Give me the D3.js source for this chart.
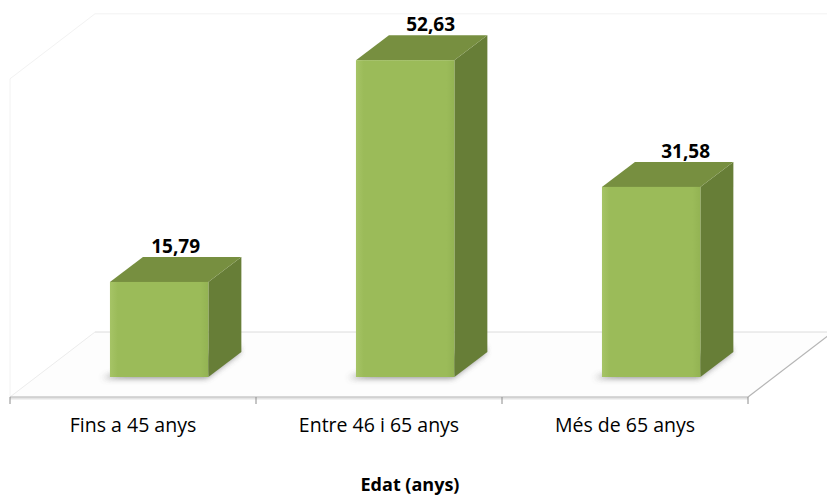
<!DOCTYPE html>
<html>
<head>
<meta charset="utf-8">
<script src="https://cdn.jsdelivr.net/npm/d3@7"></script>
<style>
  body { margin: 0; background: #fff; }
  svg { display: block; }
</style>
</head>
<body>
<div id="chart"></div>
<script>
const categories = ["Fins a 45 anys", "Entre 46 i 65 anys", "Més de 65 anys"];
const values = [15.79, 52.63, 31.58];
const valueLabels = ["15,79", "52,63", "31,58"];
const axisTitle = "Edat (anys)";

const width = 827, height = 497;
// floor geometry (perspective offset of the floor depth)
const floorFront = 397, floorBack = 332;
const floorLeft = 10, floorRight = 748;
const depthX = 85, depthY = floorFront - floorBack;
const barDx = 33, barDy = 25;
const baseY = 377;

const svg = d3.select("#chart").append("svg")
    .attr("width", width)
    .attr("height", height);

const defs = svg.append("defs");
defs.append("filter").attr("id", "shadow")
    .attr("x", "-30%").attr("y", "-100%").attr("width", "160%").attr("height", "300%")
    .append("feGaussianBlur").attr("stdDeviation", 3);

const grad = defs.append("linearGradient").attr("id", "front")
    .attr("x1", 0).attr("x2", 1).attr("y1", 0).attr("y2", 0);
grad.append("stop").attr("offset", "0%").attr("stop-color", "#a6c466");
grad.append("stop").attr("offset", "8%").attr("stop-color", "#9bbb59");
grad.append("stop").attr("offset", "92%").attr("stop-color", "#9bbb59");
grad.append("stop").attr("offset", "100%").attr("stop-color", "#93b353");

const y = d3.scaleLinear().domain([0, 60]).range([baseY, baseY - 6.02 * 60]);

const shift = (floorFront - baseY) * depthX / depthY;
const x = d3.scaleBand().domain(categories)
    .range([floorLeft + shift, floorRight + shift])
    .paddingInner(0.6).paddingOuter(0.3);

const xAxisBand = d3.scaleBand().domain(categories).range([floorLeft, floorRight]);

// walls (very faint)
const wallTop = y(60) - 2;
svg.append("path")
    .attr("d", `M${floorLeft},${floorFront} L${floorLeft},${wallTop + depthY} L${floorLeft + depthX},${wallTop} L${width},${wallTop}`)
    .attr("fill", "none").attr("stroke", "#f2f2f2").attr("stroke-width", 1);

// floor
svg.append("path")
    .attr("d", `M${floorLeft},${floorFront} L${floorRight},${floorFront} L${floorRight + depthX},${floorBack} L${floorLeft + depthX},${floorBack} Z`)
    .attr("fill", "#fdfdfd").attr("stroke", "none");
svg.append("line")
    .attr("x1", floorLeft + depthX).attr("x2", floorRight + depthX)
    .attr("y1", floorBack).attr("y2", floorBack)
    .attr("stroke", "#dcdcdc").attr("stroke-width", 1);
svg.append("line")
    .attr("x1", floorLeft).attr("x2", floorLeft + depthX)
    .attr("y1", floorFront).attr("y2", floorBack)
    .attr("stroke", "#ececec").attr("stroke-width", 1);
svg.append("line")
    .attr("x1", floorRight).attr("x2", floorRight + depthX)
    .attr("y1", floorFront).attr("y2", floorBack)
    .attr("stroke", "#b5b5b5").attr("stroke-width", 1.2);
svg.append("line")
    .attr("x1", floorLeft).attr("x2", floorRight)
    .attr("y1", floorFront + 1).attr("y2", floorFront + 1)
    .attr("stroke", "#e4e4e4").attr("stroke-width", 3);
svg.append("line")
    .attr("x1", floorLeft).attr("x2", floorRight)
    .attr("y1", floorFront).attr("y2", floorFront)
    .attr("stroke", "#bdbdbd").attr("stroke-width", 1.2);

// ticks between categories
const tickXs = categories.map(c => xAxisBand(c)).concat([floorRight]);
svg.selectAll(".tick").data(tickXs).enter().append("line")
    .attr("x1", d => d).attr("x2", d => d)
    .attr("y1", floorFront).attr("y2", floorFront + 7)
    .attr("stroke", "#8c8c8c").attr("stroke-width", 1);

// bars
const bars = svg.selectAll(".bar").data(values).enter().append("g").attr("class", "bar");
const bw = x.bandwidth();
const bx = (d, i) => x(categories[i]);

bars.append("path")
    .attr("d", (d, i) => {
        const x0 = bx(d, i) - 8, yb = baseY + 1;
        return `M${x0},${yb} L${x0 + bw + 6},${yb} L${x0 + bw + 6 + barDx},${yb - barDy} L${x0 + bw + 6 + barDx},${yb - barDy - 6} L${x0 + 20},${yb - 6} Z`;
    })
    .attr("fill", "#555").attr("opacity", 0.7).attr("filter", "url(#shadow)");

bars.append("path")
    .attr("d", (d, i) => {
        const x0 = bx(d, i) + bw, yt = y(d);
        return `M${x0},${baseY} L${x0},${yt} L${x0 + barDx},${yt - barDy} L${x0 + barDx},${baseY - barDy} Z`;
    })
    .attr("fill", "#677e37");

bars.append("path")
    .attr("d", (d, i) => {
        const x0 = bx(d, i), yt = y(d);
        return `M${x0},${yt} L${x0 + barDx},${yt - barDy} L${x0 + bw + barDx},${yt - barDy} L${x0 + bw},${yt} Z`;
    })
    .attr("fill", "#778f40");

bars.append("rect")
    .attr("x", (d, i) => bx(d, i))
    .attr("y", d => y(d))
    .attr("width", bw)
    .attr("height", d => baseY - y(d))
    .attr("fill", "url(#front)");

// value labels (slight perspective drift to the right, like the original)
bars.append("text")
    .attr("x", (d, i) => bx(d, i) + bw / 2 + barDx / 2 + i * 9)
    .attr("y", d => y(d) - barDy - 4)
    .attr("text-anchor", "middle")
    .style("font-family", "'Open Sans', sans-serif")
    .style("font-weight", "bold")
    .style("font-size", "19px")
    .attr("fill", "#000")
    .text((d, i) => valueLabels[i]);

// category labels
svg.selectAll(".cat").data(categories).enter().append("text")
    .attr("x", d => xAxisBand(d) + xAxisBand.bandwidth() / 2)
    .attr("y", 432)
    .attr("text-anchor", "middle")
    .style("font-family", "'Open Sans', sans-serif")
    .style("font-size", "19.5px")
    .attr("fill", "#000")
    .text(d => d);

svg.append("text")
    .attr("x", 410).attr("y", 491)
    .attr("text-anchor", "middle")
    .style("font-family", "'Open Sans', sans-serif")
    .style("font-weight", "bold")
    .style("font-size", "18px")
    .attr("fill", "#000")
    .text(axisTitle);
</script>
</body>
</html>
